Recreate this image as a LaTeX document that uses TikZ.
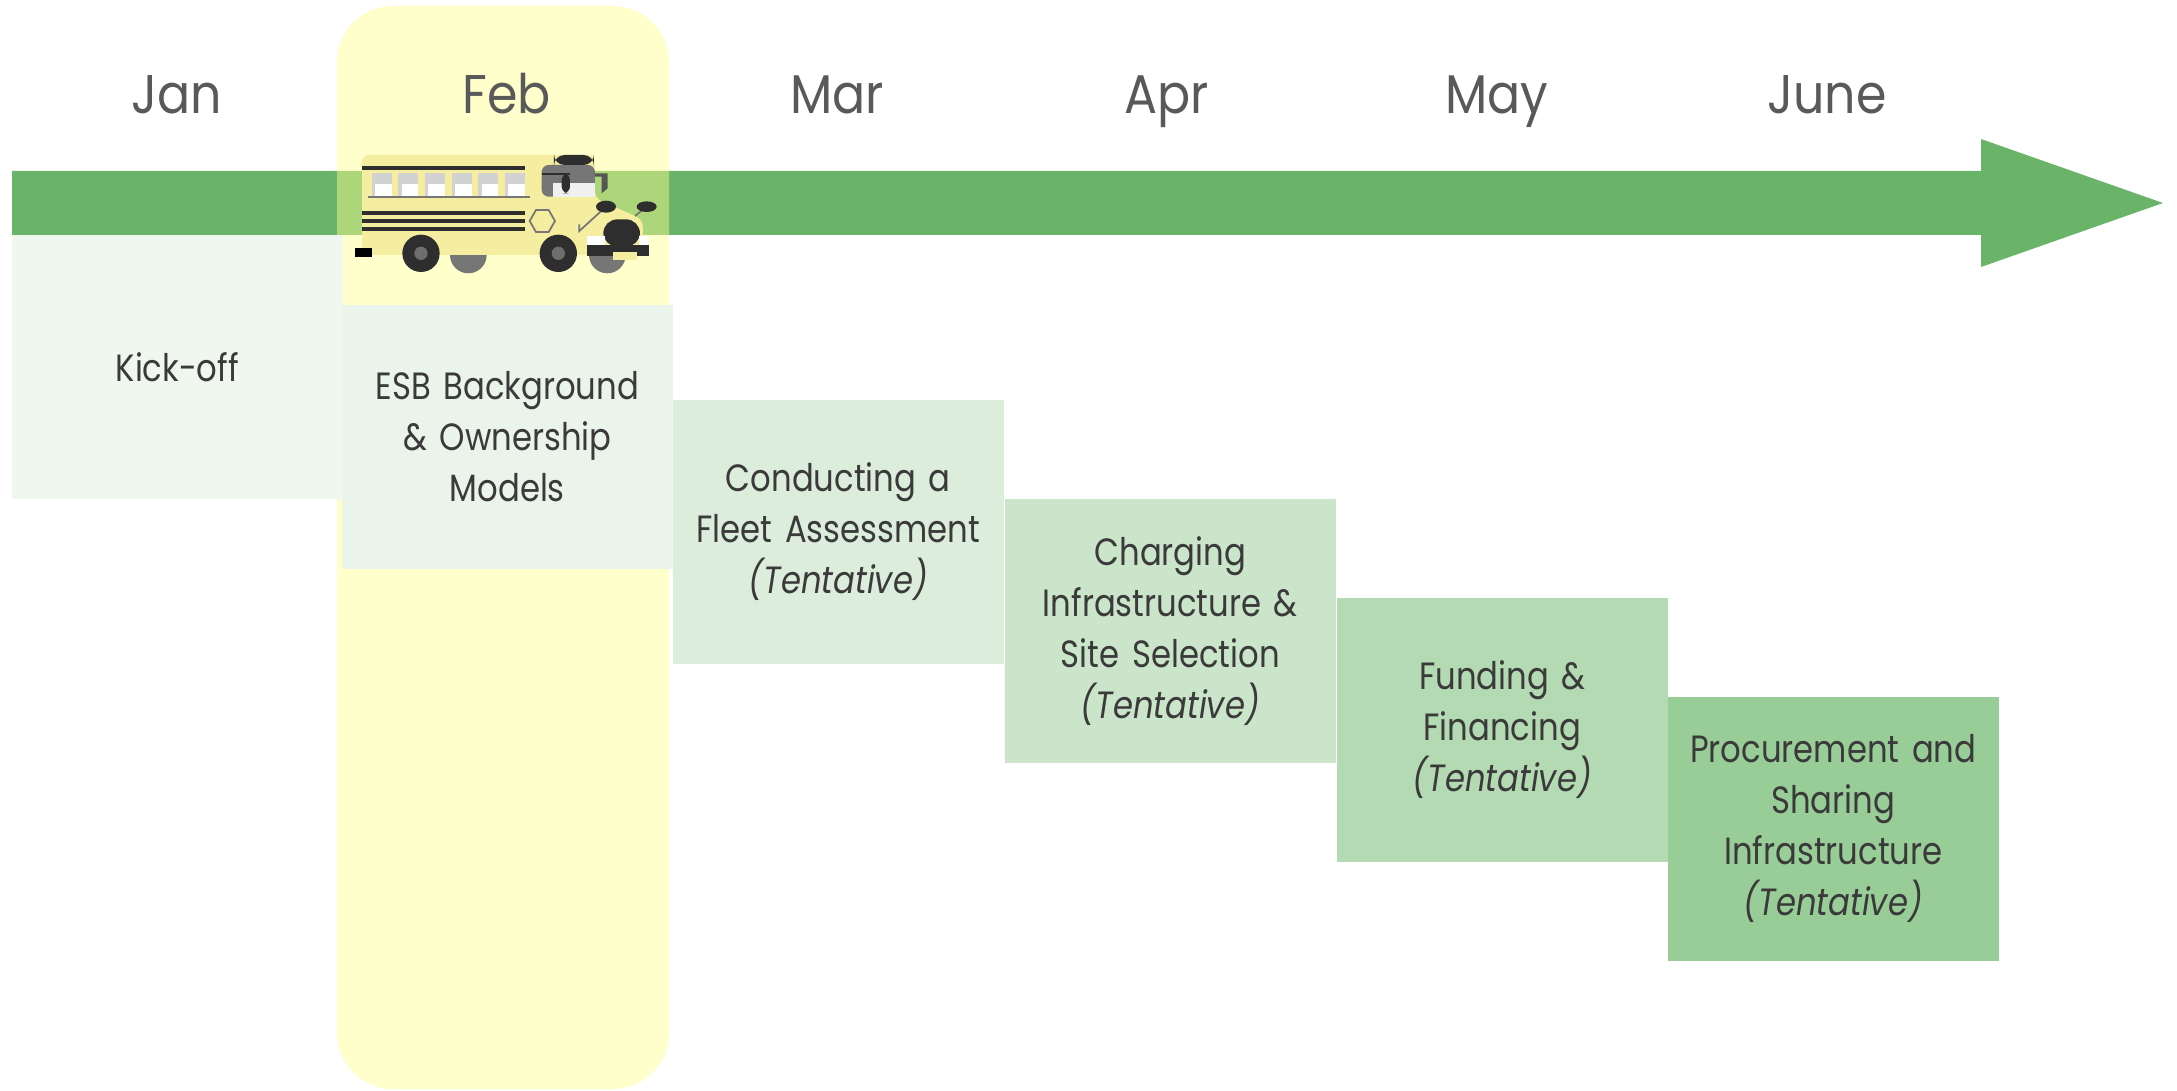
\documentclass[tikz,border=0pt]{standalone}
\usepackage{fontspec}
\setmainfont{Poppins}
\newfontfamily\phasefont[FakeStretch=0.85]{Poppins}
\newfontfamily\monthfont[FakeStretch=0.9]{Poppins}

\definecolor{arrowgreen}{HTML}{69B468}
\definecolor{hiyellow}{RGB}{255,255,144}
\definecolor{monthgray}{HTML}{595959}
\definecolor{phasetext}{HTML}{3A3A3A}
\definecolor{phase1}{HTML}{F0F7EF}
\definecolor{phase2}{HTML}{EAF4EA}
\definecolor{phase3}{HTML}{DCEDDB}
\definecolor{phase4}{HTML}{CBE5CB}
\definecolor{phase5}{HTML}{B3DAB2}
\definecolor{phase6}{HTML}{99CD97}
\definecolor{busyellow}{HTML}{F5EDA0}
\definecolor{busdark}{HTML}{2E2E2E}
\definecolor{busgray}{HTML}{767676}
\definecolor{hubgray}{HTML}{6E6E6E}
\definecolor{wingray}{HTML}{D2D2D2}
\definecolor{buslight}{HTML}{F0F0F0}
\definecolor{mirrorgray}{HTML}{555555}

\tikzset{
  month/.style={font=\monthfont\fontsize{15.5}{18}\selectfont, text=monthgray, anchor=base},
  phase/.style={anchor=north west, minimum width=3.31cm, minimum height=2.64cm,
    inner sep=0pt, text width=3.3cm, align=center,
    font=\phasefont\fontsize{10.8}{14.5}\selectfont, text=phasetext},
}

\begin{document}
\begin{tikzpicture}[x=0.01cm, y=-0.01cm]
\useasboundingbox (0,0) rectangle (2177,1091);

% timeline arrow
\fill[arrowgreen] (12,171) -- (1981,171) -- (1981,139) -- (2163,203) -- (1981,267) -- (1981,235) -- (12,235) -- cycle;

% Feb highlight
\fill[hiyellow, fill opacity=0.46, rounded corners=0.56cm] (337,6) rectangle (669,1089);

\foreach \m [count=\i from 0] in {Jan,Feb,Mar,Apr,May,June}
  \node[month] (m\i) at ({177+330*\i},114) {\m};

\node[phase, fill=phase1] (kickoff) at (11,234) {Kick-off};
\node[phase, fill=phase2] (esb) at (341,304) {ESB Background\\ \& Ownership\\ Models};
\node[phase, fill=phase3] (fleet) at (672,399) {Conducting a\\ Fleet Assessment\\ \textit{(Tentative)}};
\node[phase, fill=phase4] (charging) at (1004,498) {Charging\\ Infrastructure \&\\ Site Selection\\ \textit{(Tentative)}};
\node[phase, fill=phase5] (funding) at (1336,597) {Funding \&\\ Financing\\ \textit{(Tentative)}};
\node[phase, fill=phase6] (procure) at (1667,696) {Procurement and\\ Sharing\\ Infrastructure\\ \textit{(Tentative)}};

% bus
\begin{scope}[shift={(330,130)}, scale=1/3]
\fill[busgray] (415,375) circle (55);
\fill[busgray] (832,375) circle (55);
\fill[busyellow, rounded corners=2pt] (96,375) -- (96,75) -- (795,75) -- (795,205) -- (938,268) -- (940,375) -- cycle;
\fill[busdark] (96,107) rectangle (585,119);
\foreach \k in {0,...,5} {
  \fill[wingray] ({125+80*\k},130) rectangle +(60,67);
  \fill[white] ({135+80*\k},162) rectangle +(50,35);
}
\fill[busgray] (115,198) rectangle (600,203);
\foreach \y in {243,267,291}
  \fill[busdark] (96,\y) rectangle (585,\y+11);
\draw[busgray, line width=0.5pt] (599,273) -- (618,240) -- (656,240) -- (675,273) -- (656,306) -- (618,306) -- cycle;
\fill[busgray, rounded corners=2pt] (635,105) rectangle (795,200);
\fill[buslight] (670,158) rectangle (795,200);
\fill[busdark] (635,128) rectangle (720,136);
\fill[busdark, rounded corners=2pt] (695,130) -- (720,130) -- (720,190) -- (695,190) -- cycle;
\fill[busdark, rounded corners=3pt] (672,105) -- (672,75) -- (792,75) -- (792,105) -- cycle;
\fill[mirrorgray] (795,130) -- (833,130) -- (833,175) -- (815,190) -- (815,140) -- (795,140) -- cycle;
\draw[busgray, line width=0.5pt] (828,230) -- (748,303) -- (748,283);
\draw[busgray, line width=0.5pt] (950,230) -- (915,258);
\fill[busdark] (828,230) ellipse (30 and 18);
\fill[busdark] (950,230) ellipse (30 and 16);
\fill[busdark, rounded corners=4pt] (820,350) -- (820,268) -- (930,268) -- (930,350) -- cycle;
\fill[white] (772,318) rectangle (825,348);
\fill[white] (928,318) rectangle (957,348);
\fill[busdark] (772,345) rectangle (957,378);
\fill[busyellow] (850,365) rectangle (920,390);
\fill[black] (75,353) rectangle (125,380);
\foreach \cx in {273,685} {
  \fill[busdark] (\cx,370) circle (56);
  \fill[hubgray] (\cx,370) circle (20);
}
\end{scope}
\end{tikzpicture}
\end{document}
